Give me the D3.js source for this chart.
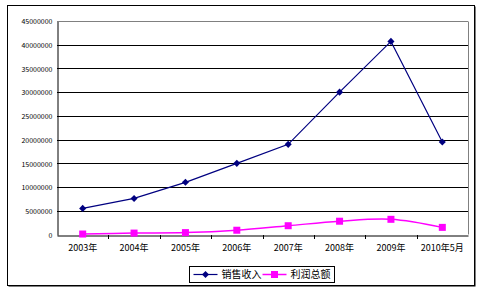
<!DOCTYPE html>
<html>
<head>
<meta charset="utf-8">
<script src="https://cdn.jsdelivr.net/npm/d3@7"></script>
<style>
  body { margin: 0; background: #fff; }
  text { font-family: "Noto Sans CJK SC", "DejaVu Sans", sans-serif; }
</style>
</head>
<body>
<div id="chart"></div>
<script>
var categories = ['2003年', '2004年', '2005年', '2006年', '2007年', '2008年', '2009年', '2010年5月'];
var sales = [5500000, 7600000, 11000000, 15000000, 19000000, 30000000, 40700000, 19500000];
var profit = [100000, 300000, 400000, 900000, 1850000, 2800000, 3200000, 1500000];
var yTicks = [0, 5000000, 10000000, 15000000, 20000000, 25000000, 30000000, 35000000, 40000000, 45000000];
var seriesNames = ['销售收入', '利润总额'];

var W = 482, H = 297;
var plot = {left: 57, top: 21, right: 468, bottom: 234.5};

var svg = d3.select('#chart')
  .append('svg')
    .attr('width', W)
    .attr('height', H);

// outer frame with a thin shadow
svg.append('rect')
  .attr('x', 8.5).attr('y', 6.5)
  .attr('width', 467).attr('height', 280)
  .attr('fill', '#000');
svg.append('rect')
  .attr('x', 7.5).attr('y', 5.5)
  .attr('width', 467).attr('height', 280)
  .attr('fill', '#fff')
  .attr('stroke', '#000');

var x = d3.scaleBand()
  .domain(categories)
  .range([plot.left, plot.right]);

var y = d3.scaleLinear()
  .domain([0, 45000000])
  .range([plot.bottom, plot.top]);

// grid lines
svg.selectAll('line.grid')
  .data(yTicks.filter((d) => d > 0))
  .enter().append('line')
    .attr('class', 'grid')
    .attr('x1', plot.left).attr('x2', plot.right)
    .attr('y1', (d) => Math.round(y(d)) + 0.5)
    .attr('y2', (d) => Math.round(y(d)) + 0.5)
    .attr('stroke', (d) => d === 45000000 ? '#808080' : '#000')
    .attr('stroke-width', 1);

// right plot border
svg.append('line')
  .attr('x1', plot.right + 0.5).attr('x2', plot.right + 0.5)
  .attr('y1', Math.round(plot.top) + 0.5).attr('y2', plot.bottom)
  .attr('stroke', '#808080');

// y axis
var yAxis = svg.append('g')
  .attr('transform', 'translate(' + (plot.left + 0.5) + ',0.5)')
  .call(d3.axisLeft(y).tickValues(yTicks).tickSize(0).tickPadding(5).tickFormat(d3.format('d')));
yAxis.select('.domain').attr('stroke', '#000');
yAxis.selectAll('text')
  .attr('font-size', '7px')
  .attr('font-family', '"DejaVu Sans", sans-serif')
  .attr('fill', '#000')
  .attr('dy', '0.32em');

// x axis
var xAxis = svg.append('g')
  .attr('transform', 'translate(0,' + (Math.round(plot.bottom) + 0.5) + ')')
  .call(d3.axisBottom(x).tickSize(0).tickPadding(9));
xAxis.select('.domain').attr('stroke', '#000');
xAxis.selectAll('text')
  .attr('font-size', '9px')
  .attr('fill', '#000');
// category boundary ticks
svg.selectAll('line.xtick')
  .data(categories.slice(1))
  .enter().append('line')
    .attr('class', 'xtick')
    .attr('x1', (d) => Math.round(x(d)) + 0.5)
    .attr('x2', (d) => Math.round(x(d)) + 0.5)
    .attr('y1', Math.round(plot.bottom))
    .attr('y2', Math.round(plot.bottom) + 4)
    .attr('stroke', '#000');

var cx = (d, i) => x(categories[i]) + x.bandwidth() / 2;

// profit line (smoothed)
var profitLine = d3.line()
  .x(cx)
  .y((d) => y(d))
  .curve(d3.curveCatmullRom.alpha(0.5));
svg.append('path')
  .datum(profit)
  .attr('d', profitLine)
  .attr('fill', 'none')
  .attr('stroke', '#ff00ff')
  .attr('stroke-width', 1.5);
svg.selectAll('rect.pm')
  .data(profit)
  .enter().append('rect')
    .attr('class', 'pm')
    .attr('x', (d, i) => cx(d, i) - 3.5)
    .attr('y', (d) => y(d) - 3.5)
    .attr('width', 7).attr('height', 7)
    .attr('fill', '#ff00ff');

// sales line
var salesLine = d3.line()
  .x(cx)
  .y((d) => y(d));
svg.append('path')
  .datum(sales)
  .attr('d', salesLine)
  .attr('fill', 'none')
  .attr('stroke', '#000080')
  .attr('stroke-width', 1.2);
var diamond = d3.symbol().type(d3.symbolDiamond2).size(32);
svg.selectAll('path.sm')
  .data(sales)
  .enter().append('path')
    .attr('class', 'sm')
    .attr('d', diamond)
    .attr('transform', (d, i) => 'translate(' + cx(d, i) + ',' + y(d) + ')')
    .attr('fill', '#000080');

// legend
var legend = svg.append('g').attr('transform', 'translate(189.5,266.5)');
legend.append('rect')
  .attr('width', 145).attr('height', 16)
  .attr('fill', '#fff').attr('stroke', '#000');
var legendItems = [
  {name: seriesNames[0], color: '#000080', x: 4, marker: 'diamond'},
  {name: seriesNames[1], color: '#ff00ff', x: 73, marker: 'square'}
];
var li = legend.selectAll('g.li')
  .data(legendItems)
  .enter().append('g')
    .attr('class', 'li')
    .attr('transform', (d) => 'translate(' + d.x + ',8)');
li.append('line')
  .attr('x1', 0).attr('x2', 24)
  .attr('stroke', (d) => d.color)
  .attr('stroke-width', (d) => d.marker === 'square' ? 1.5 : 1.2);
li.append('path')
  .attr('d', (d) => d.marker === 'square' ? 'M-3.5,-3.5h7v7h-7z' : diamond())
  .attr('transform', 'translate(12,0)')
  .attr('fill', (d) => d.color);
li.append('text')
  .text((d) => d.name)
  .attr('x', 28)
  .attr('dy', '0.35em')
  .attr('font-size', '10px')
  .attr('fill', '#000');
</script>
</body>
</html>
